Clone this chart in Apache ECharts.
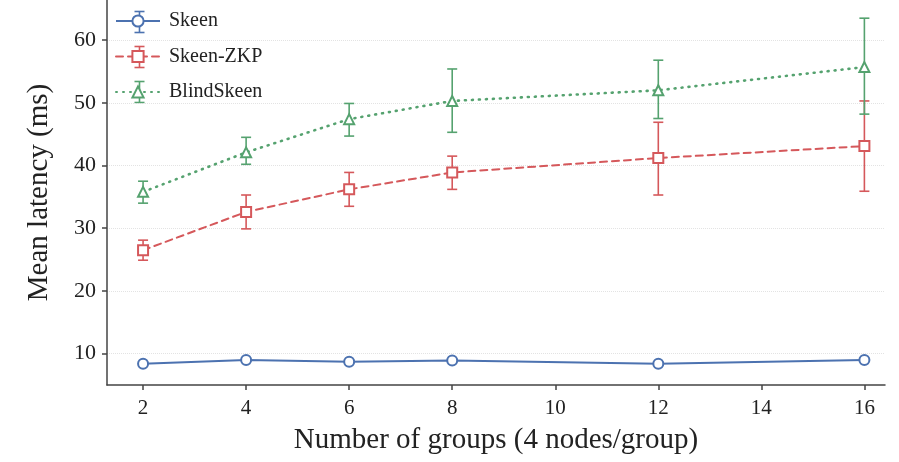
<!DOCTYPE html>
<html>
<head>
<meta charset="utf-8">
<script src="https://cdn.jsdelivr.net/npm/echarts@6/dist/echarts.min.js"></script>
<style>
  html, body { margin: 0; padding: 0; background: #fff; }
  #chart { width: 899px; height: 462px; }
</style>
</head>
<body>
<div id="chart"></div>
<script>
// 数据
const groups = [2, 4, 6, 8, 12, 16];
const xTicks = [2, 4, 6, 8, 10, 12, 14, 16];
const yTicks = [10, 20, 30, 40, 50, 60];

const skeenMean = [8.4, 9.0, 8.7, 8.9, 8.4, 9.0];
const skeenLow = [8.2, 8.8, 8.5, 8.7, 8.2, 8.8];
const skeenHigh = [8.6, 9.2, 8.9, 9.1, 8.6, 9.2];

const zkpMean = [26.5, 32.6, 36.2, 38.9, 41.2, 43.1];
const zkpLow = [24.9, 29.9, 33.5, 36.2, 35.3, 35.9];
const zkpHigh = [28.1, 35.3, 38.9, 41.5, 46.9, 50.3];

const blindMean = [35.8, 42.1, 47.4, 50.3, 52.0, 55.7];
const blindLow = [34.0, 40.2, 44.7, 45.3, 47.5, 48.2];
const blindHigh = [37.5, 44.5, 49.9, 55.4, 56.8, 63.5];

const BLUE = '#4c72b0';
const RED = '#d5585b';
const GREEN = '#55a26f';
const FONT = '"Liberation Serif", "DejaVu Serif", serif';

// 误差棒
function errorBar(name, color, low, high) {
    return {
        name: name,
        type: 'custom',
        z: 1,
        data: groups.map((g, i) => [g, low[i], high[i]]),
        renderItem: function (params, api) {
            const top = api.coord([api.value(0), api.value(2)]);
            const bot = api.coord([api.value(0), api.value(1)]);
            const hw = 5;
            const style = { stroke: color, lineWidth: 1.6 };
            return {
                type: 'group',
                children: [
                    { type: 'line', shape: { x1: top[0], y1: top[1], x2: bot[0], y2: bot[1] }, style: style },
                    { type: 'line', shape: { x1: top[0] - hw, y1: top[1], x2: top[0] + hw, y2: top[1] }, style: style },
                    { type: 'line', shape: { x1: bot[0] - hw, y1: bot[1], x2: bot[0] + hw, y2: bot[1] }, style: style }
                ]
            };
        }
    };
}

function meanLine(name, color, values, symbol, lineType, width) {
    return {
        name: name,
        type: 'line',
        z: 3,
        data: groups.map((g, i) => [g, values[i]]),
        symbol: symbol,
        symbolSize: 10,
        showAllSymbol: true,
        lineStyle: { color: color, width: width, type: lineType, cap: lineType === 'solid' ? 'butt' : 'round' },
        itemStyle: { color: '#fff', borderColor: color, borderWidth: 2 }
    };
}

const chart = echarts.init(document.getElementById('chart'));

// 图例里的误差棒
const legendColors = [BLUE, RED, GREEN];
const legendBars = [20, 55, 90].map((y, i) => ({
    type: 'group',
    left: 132,
    top: y - 11,
    z: 0,
    children: [
        { type: 'line', shape: { x1: 5, y1: 0, x2: 5, y2: 21 }, style: { stroke: legendColors[i], lineWidth: 1.6 } },
        { type: 'line', shape: { x1: 0, y1: 0, x2: 10, y2: 0 }, style: { stroke: legendColors[i], lineWidth: 1.6 } },
        { type: 'line', shape: { x1: 0, y1: 21, x2: 10, y2: 21 }, style: { stroke: legendColors[i], lineWidth: 1.6 } }
    ]
}));

const option = {
    backgroundColor: '#fff',
    animation: false,
    textStyle: { fontFamily: FONT },
    grid: { left: 107, right: 14, top: 0, bottom: 77, outerBoundsMode: 'none', containLabel: false },
    legend: {
        orient: 'vertical',
        left: 110,
        top: 6,
        itemWidth: 44,
        itemHeight: 14,
        itemGap: 15.5,
        data: ['Skeen', 'Skeen-ZKP', 'BlindSkeen'],
        textStyle: { fontFamily: FONT, fontSize: 20, color: '#222', padding: [0, 0, 0, 4] }
    },
    graphic: legendBars,
    xAxis: {
        type: 'value',
        min: 1.3,
        max: 16.4,
        name: 'Number of groups (4 nodes/group)',
        nameLocation: 'middle',
        nameGap: 41,
        nameTextStyle: { fontFamily: FONT, fontSize: 29, color: '#222' },
        axisLine: { lineStyle: { color: '#444', width: 1.5 } },
        axisTick: { show: true, length: 5, customValues: xTicks, lineStyle: { color: '#444', width: 1.5 } },
        axisLabel: { customValues: xTicks, fontFamily: FONT, fontSize: 21, color: '#222', margin: 13 },
        splitLine: { show: false }
    },
    yAxis: {
        type: 'value',
        min: 5,
        max: 66.4,
        name: 'Mean latency (ms)',
        nameLocation: 'middle',
        nameGap: 53,
        nameTextStyle: { fontFamily: FONT, fontSize: 29, color: '#222' },
        axisLine: { show: true, lineStyle: { color: '#444', width: 1.5 } },
        axisTick: { show: true, length: 5, customValues: yTicks, lineStyle: { color: '#444', width: 1.5 } },
        axisLabel: { customValues: yTicks, fontFamily: FONT, fontSize: 22, color: '#222', margin: 11 },
        splitLine: { show: true, lineStyle: { color: '#e3e3e3', width: 1, type: 'dotted' } }
    },
    series: [
        meanLine('Skeen', BLUE, skeenMean, 'circle', 'solid', 2),
        meanLine('Skeen-ZKP', RED, zkpMean, 'rect', [7, 5], 2),
        meanLine('BlindSkeen', GREEN, blindMean, 'triangle', [1, 6], 2.6),
        errorBar('Skeen', BLUE, skeenLow, skeenHigh),
        errorBar('Skeen-ZKP', RED, zkpLow, zkpHigh),
        errorBar('BlindSkeen', GREEN, blindLow, blindHigh)
    ]
};

chart.setOption(option);
window.addEventListener('resize', () => chart.resize());
</script>
</body>
</html>
